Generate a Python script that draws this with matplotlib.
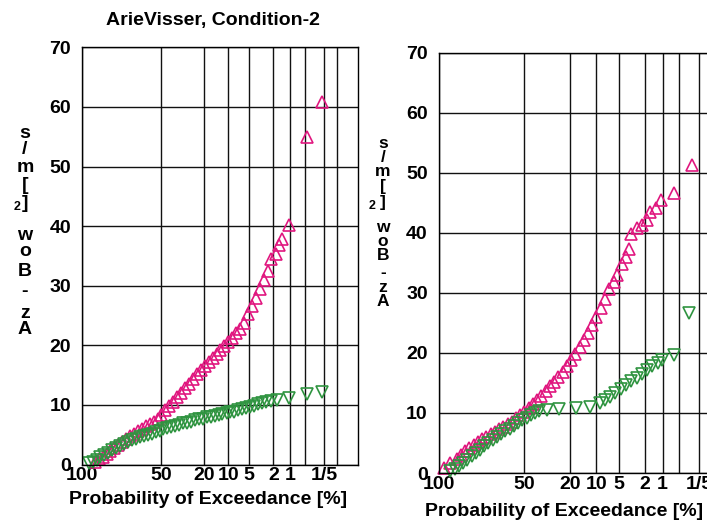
import numpy as np
import matplotlib
matplotlib.use("Agg")
import matplotlib.pyplot as plt

plt.rcParams["font.family"] = ["Liberation Sans", "DejaVu Sans"]
plt.rcParams["font.weight"] = "bold"

W, H = 707, 523
MAGENTA = "#e0177f"
GREEN = "#2f9440"

# exceedance probability [%] / value
left_up_p = [97.5, 96.1, 94.4, 92.4, 90.3, 87.8, 85.2, 82.4, 79.4, 76.3, 73.1, 69.8, 66.4,
             63.0, 59.5, 56.1, 52.7, 49.4, 46.1, 42.9, 39.8, 36.8, 33.9, 31.2, 28.5, 26.0,
             23.7, 21.5, 19.4, 17.5, 15.7, 14.1, 12.6, 11.2, 9.9, 8.8, 7.7, 6.8, 5.9, 5.2,
             4.5, 3.9, 3.4, 2.9, 2.5, 2.2, 1.83, 1.56, 1.38, 1.03, 0.47, 0.22]
left_up_v = [0.5, 0.9, 1.3, 1.8, 2.3, 2.8, 3.3, 3.8, 4.3, 4.8, 5.2, 5.6, 6.0, 6.4, 6.8, 7.2,
             7.7, 8.4, 9.1, 9.9, 10.5, 11.3, 12.0, 12.8, 13.6, 14.4, 15.2, 15.9, 16.6, 17.2,
             17.9, 18.6, 19.2, 19.9, 20.6, 21.3, 22.0, 22.8, 23.8, 25.3, 26.6, 28.0, 29.5,
             31.0, 32.5, 34.5, 35.3, 36.8, 37.8, 40.2, 55.0, 60.8]

left_dn_p = [99.0, 98.1, 96.8, 95.3, 93.5, 91.4, 89.1, 86.6, 83.8, 80.9, 77.9, 74.7, 71.4,
             68.1, 64.7, 61.3, 57.8, 54.4, 51.0, 47.7, 44.5, 41.3, 38.3, 35.3, 32.5, 29.8,
             27.3, 24.9, 22.6, 20.4, 18.5, 16.6, 14.9, 13.3, 11.9, 10.5, 9.3, 8.2, 7.2, 6.4,
             5.6, 4.8, 4.2, 3.6, 3.1, 2.7, 2.2, 1.7, 1.03, 0.47, 0.22]
left_dn_v = [0.2, 0.4, 0.8, 1.2, 1.6, 2.0, 2.4, 2.8, 3.1, 3.5, 3.8, 4.1, 4.3, 4.6, 4.8, 5.0,
             5.2, 5.4, 5.6, 5.9, 6.1, 6.3, 6.5, 6.7, 6.9, 7.0, 7.2, 7.4, 7.6, 7.7, 7.9, 8.0,
             8.2, 8.3, 8.5, 8.6, 8.8, 8.9, 9.1, 9.3, 9.5, 9.7, 9.9, 10.1, 10.3, 10.5, 10.7,
             10.9, 11.1, 11.8, 12.2]

right_up_p = [99.4, 98.1, 96.1, 94.4, 92.4, 90.3, 87.8, 85.2, 82.4, 79.4, 76.3, 73.1, 69.8,
              66.4, 63.0, 59.5, 56.1, 52.7, 49.4, 46.1, 42.9, 39.8, 36.8, 33.9, 31.2, 28.5,
              26.0, 23.7, 21.5, 19.4, 17.5, 15.7, 14.1, 12.6, 11.2, 9.9, 8.8, 7.7, 6.8, 5.9,
              5.2, 4.5, 3.9, 3.5, 3.26, 2.7, 2.23, 1.83, 1.62, 1.32, 1.07, 0.61, 0.28]
right_up_v = [0.8, 1.7, 2.4, 3.0, 3.6, 4.2, 4.7, 5.1, 5.6, 6.0, 6.5, 6.9, 7.3, 7.7, 8.1, 8.5,
              9.1, 9.6, 10.2, 10.8, 11.5, 12.2, 12.9, 13.7, 14.5, 15.2, 16.0, 16.8, 17.8,
              18.8, 19.9, 21.0, 22.2, 23.3, 24.6, 26.0, 27.5, 29.0, 30.6, 31.9, 33.0, 34.8,
              36.0, 37.3, 39.8, 40.8, 41.3, 42.2, 43.5, 44.2, 45.5, 46.7, 51.3]

right_dn_p = [98.1, 96.8, 95.3, 93.5, 91.4, 89.1, 86.6, 83.8, 80.9, 77.9, 74.7, 71.4, 68.1,
              64.7, 61.3, 57.8, 54.4, 51.0, 47.7, 44.5, 41.3, 38.3, 33.2, 25.4, 17.1, 11.9,
              9.05, 7.73, 6.57, 5.56, 4.68, 3.92, 3.26, 2.70, 2.23, 1.83, 1.50, 1.22, 1.03,
              0.61, 0.315]
right_dn_v = [0.3, 0.6, 1.2, 1.7, 2.2, 2.8, 3.3, 3.9, 4.5, 5.0, 5.5, 6.0, 6.5, 7.0, 7.4, 7.9,
              8.3, 8.8, 9.2, 9.6, 10.0, 10.3, 10.5, 10.6, 10.8, 11.0, 11.7, 12.2, 12.7, 13.3,
              14.0, 14.7, 15.3, 15.9, 16.5, 17.1, 17.8, 18.4, 18.8, 19.7, 26.7]

tick_p = [99.9, 50, 20, 10, 5, 2, 1, 0.2]
tick_labels = ["100", "50", "20", "10", "5", "2", "1", "1/5"]
grid_p = [0.5, 0.1]
ylabel_chars = ["s", "/", "m", "[", "]", "w", "o", "B", "-", "z", "A"]


def rayleigh(p):
    # exceedance prob [%] -> sqrt(-ln P) paper coordinate
    return np.sqrt(-np.log(np.asarray(p, dtype=float) / 100.0))


def setup(ax):
    ax.set_xlim(rayleigh(99.9), 2.839)
    ax.set_ylim(0, 70)
    ax.set_xticks(rayleigh(tick_p))
    ax.set_xticklabels(tick_labels)
    ax.set_xticks(rayleigh(grid_p), minor=True)
    ax.set_yticks(np.arange(0, 71, 10))
    ax.grid(True, which="both", color="#111111", linewidth=1.0)
    ax.set_axisbelow(True)
    ax.tick_params(which="both", length=0, labelsize=14)
    ax.tick_params(axis="x", pad=2)
    ax.tick_params(axis="y", pad=8)
    for s in ax.spines.values():
        s.set_linewidth(1.0)


def draw(ax, up_p, up_v, dn_p, dn_v):
    ax.plot(rayleigh(up_p), up_v, ls="none", marker="^", ms=9, mfc="none",
            mec=MAGENTA, mew=1.2, clip_on=False)
    ax.plot(rayleigh(dn_p), dn_v, ls="none", marker="v", ms=9, mfc="none",
            mec=GREEN, mew=1.2, clip_on=False)


def stacked_label(fig, x, ys, sup_xy, size):
    for ch, y in zip(ylabel_chars, ys):
        fig.text(x / W, 1 - y / H, ch, ha="center", va="center", fontsize=size,
                 fontweight="bold")
    fig.text(sup_xy[0] / W, 1 - sup_xy[1] / H, "2", ha="center", va="center",
             fontsize=9, fontweight="bold")


fig = plt.figure(figsize=(W / 100, H / 100), dpi=100)

ax1 = fig.add_axes([0.1160, 0.1117, 0.3904, 0.7977])
setup(ax1)
draw(ax1, left_up_p, left_up_v, left_dn_p, left_dn_v)

ax2 = fig.add_axes([0.6209, 0.0956, 0.4200, 0.8031])
setup(ax2)
draw(ax2, right_up_p, right_up_v, right_dn_p, right_dn_v)

fig.text(213 / W, 1 - 20 / H, "ArieVisser, Condition-2", ha="center", va="center",
         fontsize=14, fontweight="bold")
fig.text(208 / W, 1 - 500 / H, "Probability of Exceedance [%]", ha="center",
         va="center", fontsize=14, fontweight="bold")
fig.text(564 / W, 1 - 512 / H, "Probability of Exceedance [%]", ha="center",
         va="center", fontsize=14, fontweight="bold")

stacked_label(fig, 25, [133, 149, 168, 186, 203, 235, 251, 272, 292, 313, 329], (17, 207), 14)
stacked_label(fig, 383, [143, 157, 171, 186, 203, 228, 242, 256, 273, 288, 302], (372, 206), 12.5)

fig.savefig("out.png", dpi=100)
